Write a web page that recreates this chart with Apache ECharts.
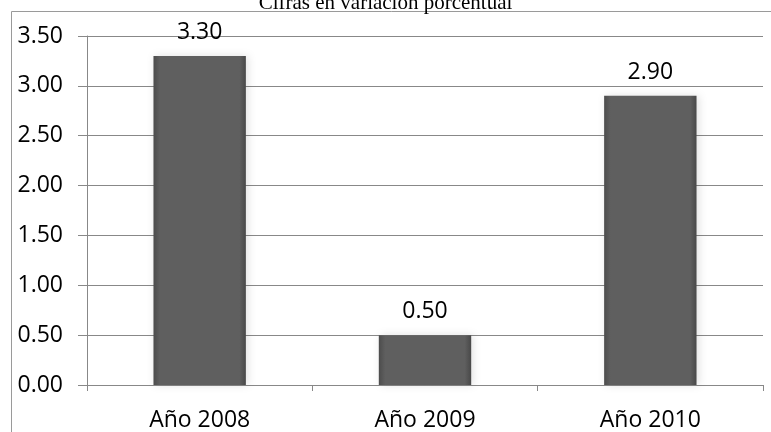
<!DOCTYPE html>
<html>
<head>
<meta charset="utf-8">
<script src="https://cdn.jsdelivr.net/npm/echarts@6/dist/echarts.min.js"></script>
<style>
  html, body { margin: 0; padding: 0; background: #ffffff; }
  #chart { width: 771px; height: 432px; }
</style>
</head>
<body>
<div id="chart"></div>
<script>
// Variación porcentual por año
const categories = ['Año 2008', 'Año 2009', 'Año 2010'];
const values = [3.30, 0.50, 2.90];
const yTicks = { min: 0, max: 3.5, interval: 0.5 };
const titleText = 'Cifras en variación porcentual';

const chart = echarts.init(document.getElementById('chart'));
const axisGray = '#888888';
const sans = '"Open Sans", "Noto Sans", sans-serif';

chart.setOption({
  animation: false,
  backgroundColor: '#ffffff',
  title: {
    text: titleText,
    left: 'center',
    top: -12,
    textStyle: {
      fontFamily: '"Liberation Serif", "DejaVu Serif", serif',
      fontSize: 21,
      fontWeight: 'normal',
      color: '#000000'
    }
  },
  graphic: [{
    type: 'rect',
    silent: true,
    z: -1,
    shape: { x: 11.5, y: 11.5, width: 900, height: 900 },
    style: { fill: 'none', stroke: '#9a9a9a', lineWidth: 1 }
  }],
  grid: { left: 87, right: 8, top: 36, bottom: 44, containLabel: false },
  xAxis: {
    type: 'category',
    data: categories,
    boundaryGap: true,
    axisLine: { show: true, lineStyle: { color: axisGray, width: 1 } },
    axisTick: { show: true, length: 6, inside: false, lineStyle: { color: axisGray } },
    axisLabel: { color: '#000000', fontFamily: sans, fontSize: 23, margin: 24 }
  },
  yAxis: {
    type: 'value',
    min: yTicks.min,
    max: yTicks.max,
    interval: yTicks.interval,
    axisLine: { show: true, lineStyle: { color: axisGray, width: 1 } },
    axisTick: { show: true, length: 9, lineStyle: { color: axisGray } },
    splitLine: { show: true, lineStyle: { color: axisGray, width: 1 } },
    axisLabel: {
      color: '#000000',
      fontFamily: sans,
      fontSize: 23,
      margin: 24,
      formatter: v => v.toFixed(2)
    }
  },
  series: [{
    type: 'bar',
    data: values,
    barWidth: '41%',
    itemStyle: {
      color: {
        type: 'linear', x: 0, y: 0, x2: 1, y2: 0,
        colorStops: [
          { offset: 0, color: '#4c4c4c' },
          { offset: 0.07, color: '#5f5f5f' },
          { offset: 0.93, color: '#5f5f5f' },
          { offset: 1, color: '#484848' }
        ]
      },
      shadowColor: 'rgba(0,0,0,0.12)',
      shadowBlur: 8,
      shadowOffsetX: 2
    },
    label: {
      show: true,
      position: 'top',
      distance: 12,
      color: '#000000',
      fontFamily: sans,
      fontSize: 23,
      formatter: p => p.value.toFixed(2)
    }
  }]
});
</script>
</body>
</html>
